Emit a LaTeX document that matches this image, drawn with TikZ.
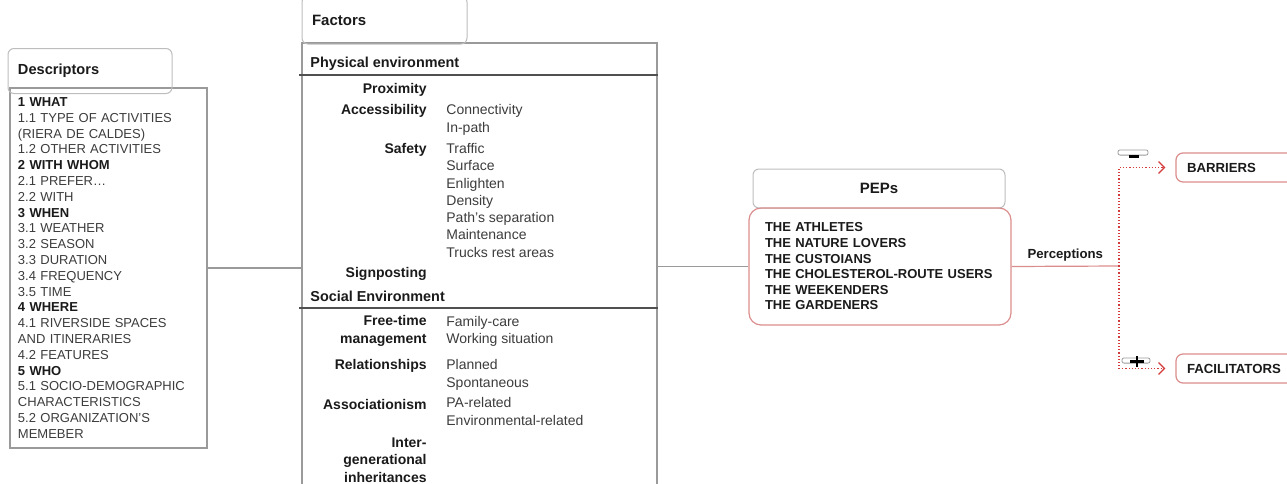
\documentclass[tikz,border=0pt]{standalone}
\usepackage{fontspec}
\setmainfont{Liberation Sans}
\usepackage{xcolor}
\definecolor{InkBlack}{HTML}{1A1A1A}
\definecolor{InkGray}{HTML}{3C3C3C}
\definecolor{FrameGray}{HTML}{9A9A9A}
\definecolor{TabGray}{HTML}{BDBDBD}
\definecolor{RuleGray}{HTML}{505050}
\definecolor{PepRed}{HTML}{DB8C8C}
\definecolor{LinkRed}{HTML}{D43A3A}
\usetikzlibrary{positioning,calc,arrows.meta}
\newcommand\deschead[1]{{\color{InkBlack}\bfseries #1}}

\begin{document}
\begin{tikzpicture}[x=0.5pt,y=-0.5pt,font=\fontsize{7}{8.65}\selectfont,
  tab/.style={draw=TabGray,rounded corners=3pt,line width=0.5pt},
  boxframe/.style={draw=FrameGray,line width=0.6pt},
  pepbox/.style={draw=PepRed,rounded corners=6pt,line width=0.6pt},
  outbox/.style={draw=PepRed,rounded corners=3.5pt,line width=0.6pt,minimum height=14.5pt,
    text width=51pt,inner xsep=5.5pt,align=left,text=InkBlack,font=\fontsize{6.6}{8}\selectfont\bfseries},
  head/.style={text=InkBlack,inner sep=0pt,font=\fontsize{7.2}{8.65}\selectfont\bfseries},
  factor/.style={text=InkBlack,inner sep=0pt,align=right,font=\fontsize{7}{8.65}\selectfont\bfseries},
  item/.style={text=InkGray,inner sep=0pt},
  rule/.style={draw=RuleGray,line width=0.9pt},
  link/.style={draw=FrameGray,line width=0.6pt},
  perc/.style={draw=LinkRed,densely dotted,line width=0.6pt,shorten >=5pt,
    -{Straight Barb[length=3pt,width=6pt]}},
  signbox/.style={draw=FrameGray,rounded corners=1pt,line width=0.4pt,inner sep=0pt,
    minimum width=15pt,minimum height=2.6pt}]
\useasboundingbox (0,0) rectangle (1287,483);
% descriptors
\node[boxframe,minimum width=98.5pt,minimum height=180pt,text width=90.5pt,inner xsep=4pt,
  align=left,text=InkGray,font=\fontsize{6.5}{7.9}\selectfont] (desc) at (108.5,268) {%
  \deschead{1 WHAT}\\1.1 TYPE OF ACTIVITIES\\(RIERA DE CALDES)\\1.2 OTHER ACTIVITIES\\
  \deschead{2 WITH WHOM}\\2.1 PREFER…\\2.2 WITH\\
  \deschead{3 WHEN}\\3.1 WEATHER\\3.2 SEASON\\3.3 DURATION\\3.4 FREQUENCY\\3.5 TIME\\
  \deschead{4 WHERE}\\4.1 RIVERSIDE SPACES\\AND ITINERARIES\\4.2 FEATURES\\
  \deschead{5 WHO}\\5.1 SOCIO-DEMOGRAPHIC\\CHARACTERISTICS\\5.2 ORGANIZATION'S\\MEMEBER};
\node[tab,minimum height=22.5pt,text width=72pt,inner xsep=5pt,align=left,text=InkBlack,
  font=\fontsize{7.3}{8}\selectfont\bfseries] (desctab) at (90,71) {Descriptors};
% factors
\node[boxframe,minimum width=177.5pt,minimum height=223pt] (fac) at (479.5,266) {};
\node[tab,minimum height=24pt,text width=72.5pt,inner xsep=5pt,align=left,text=InkBlack,
  font=\fontsize{7.5}{8}\selectfont\bfseries] (factab) at (384.5,20) {Factors};
\node[head,anchor=mid west] (phys) at (310,62) {Physical environment};
\node[head,anchor=mid west] (soc) at (310,296) {Social Environment};
\draw[rule] ([xshift=-1pt]fac.west |- 0,75) -- (fac.east |- 0,75);
\draw[rule] ([xshift=-1pt]fac.west |- 0,308) -- (fac.east |- 0,308);
\foreach \lbl/\y [count=\i] in {Proximity/90, Accessibility/111, Safety/150, Signposting/274,
  {Free-time\\management}/331, Relationships/366, Associationism/404,
  {Inter-\\generational\\inheritances}/460} {
  \node[factor,anchor=east] (f\i) at (427,\y) {\lbl};
}
\foreach \txt/\y [count=\i] in {Connectivity/109, In-path/127, Traffic/148, Surface/165,
  Enlighten/183, Density/200, Path's separation/217, Maintenance/234, Trucks rest areas/252,
  Family-care/321, Working situation/338, Planned/364, Spontaneous/382, PA-related/402,
  Environmental-related/420} {
  \node[item,anchor=mid west] (s\i) at (446,\y) {\txt};
}
% PEPs
\node[tab,minimum width=126pt,minimum height=19.5pt,text=InkBlack,
  font=\fontsize{7.5}{8}\selectfont\bfseries] (pepstab) at (879,188.5) {PEPs};
\node[pepbox,minimum height=58.5pt,text width=115pt,inner xsep=8pt,align=left,text=InkBlack,
  font=\fontsize{6.5}{7.8}\selectfont\bfseries] (peps) at (880,266.5) {%
  THE ATHLETES\\THE NATURE LOVERS\\THE CUSTOIANS\\THE CHOLESTEROL-ROUTE USERS\\
  THE WEEKENDERS\\THE GARDENERS};
% outcomes
\node[outbox] (barr) at (1238,167.5) {BARRIERS};
\node[outbox] (facil) at (1238,368.5) {FACILITATORS};
% connectors
\draw[link] (desc.east) -- (desc.east -| fac.west);
\draw[link] (fac.east |- peps.west) -- (peps.west);
\coordinate (split) at (1119,266);
\draw[link,draw=PepRed] (peps.east) -- node[above,inner sep=2pt,text=InkBlack,
  font=\fontsize{6.6}{8}\selectfont\bfseries] (perclbl) {Perceptions} (split);
\draw[perc] (split) |- (barr.west);
\draw[perc] (split) |- (facil.west);
% signs
\node[signbox] (minusbox) at (1133,152.5) {};
\node[fill=black,inner sep=0pt,minimum width=5pt,minimum height=1.6pt] (minusbar) at (1133.5,156.5) {};
\node[signbox,minimum width=14pt] (plusbox) at (1136,360.5) {};
\draw[line width=1.4pt,black] (1130,361.5) -- (1144,361.5) (1137,356) -- (1137,367);
\end{tikzpicture}
\end{document}
